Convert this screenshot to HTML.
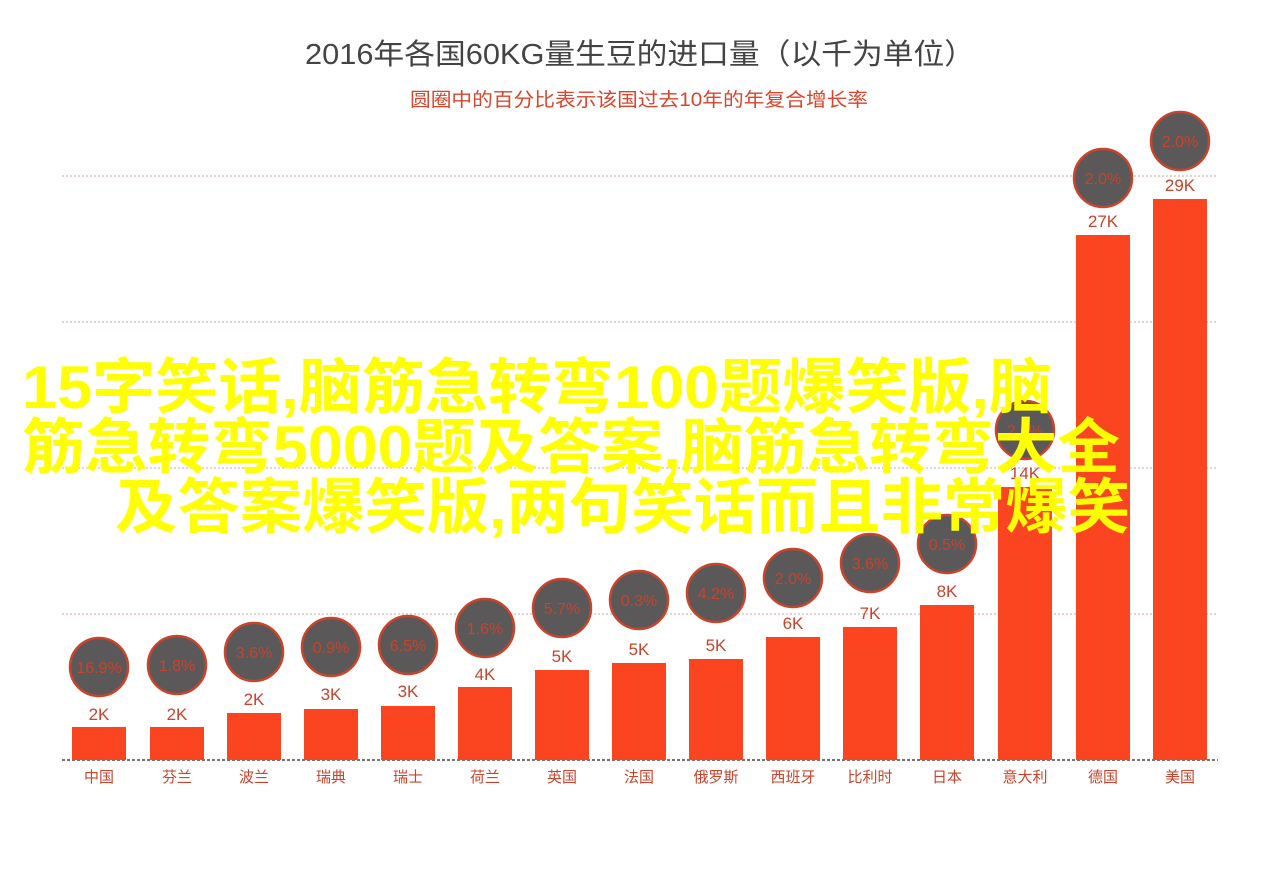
<!DOCTYPE html>
<html><head><meta charset="utf-8"><style>
body{margin:0;background:#fff;}
svg{display:block;font-family:"Liberation Sans","Noto Sans CJK SC",sans-serif;}
</style></head><body>
<svg width="1280" height="872" viewBox="0 0 1280 872">
<text x="305" y="64" font-size="29" fill="#444" textLength="670" lengthAdjust="spacingAndGlyphs">2016年各国60KG量生豆的进口量（以千为单位）</text>
<text x="410" y="106" font-size="19" fill="#d8452c" textLength="458" lengthAdjust="spacingAndGlyphs">圆圈中的百分比表示该国过去10年的年复合增长率</text>
<g stroke="#c9a9a0" stroke-dasharray="2,2" stroke-width="1">
<line x1="62" y1="176" x2="1218" y2="176"/>
<line x1="62" y1="322" x2="1218" y2="322"/>
<line x1="62" y1="468" x2="1218" y2="468"/>
<line x1="62" y1="614" x2="1218" y2="614"/>
</g>
<line x1="62" y1="760" x2="1218" y2="760" stroke="#222" stroke-dasharray="3,2" stroke-width="1.2"/>
<g fill="#fb4520">
<rect x="72" y="727" width="54" height="33"/>
<rect x="150" y="727" width="54" height="33"/>
<rect x="227" y="713" width="54" height="47"/>
<rect x="304" y="709" width="54" height="51"/>
<rect x="381" y="706" width="54" height="54"/>
<rect x="458" y="687" width="54" height="73"/>
<rect x="535" y="670" width="54" height="90"/>
<rect x="612" y="663" width="54" height="97"/>
<rect x="689" y="659" width="54" height="101"/>
<rect x="766" y="637" width="54" height="123"/>
<rect x="843" y="627" width="54" height="133"/>
<rect x="920" y="605" width="54" height="155"/>
<rect x="998" y="487" width="54" height="273"/>
<rect x="1076" y="235" width="54" height="525"/>
<rect x="1153" y="199" width="54" height="561"/>
</g>
<g fill="#5a5858" stroke="#c8442c" stroke-width="2.5">
<circle cx="99" cy="667" r="29"/>
<circle cx="177" cy="665" r="29"/>
<circle cx="254" cy="652" r="29"/>
<circle cx="331" cy="647" r="29"/>
<circle cx="408" cy="645" r="29"/>
<circle cx="485" cy="628" r="29"/>
<circle cx="562" cy="608" r="29"/>
<circle cx="639" cy="600" r="29"/>
<circle cx="716" cy="593" r="29"/>
<circle cx="793" cy="578" r="29"/>
<circle cx="870" cy="563" r="29"/>
<circle cx="947" cy="544" r="29"/>
<circle cx="1025" cy="430" r="29"/>
<circle cx="1103" cy="178" r="29"/>
<circle cx="1180" cy="141" r="29"/>
</g>
<g font-size="16" fill="#c8442c" text-anchor="middle">
<text x="99" y="673">16.9%</text>
<text x="177" y="671">1.8%</text>
<text x="254" y="658">3.6%</text>
<text x="331" y="653">0.9%</text>
<text x="408" y="651">6.5%</text>
<text x="485" y="634">1.6%</text>
<text x="562" y="614">5.7%</text>
<text x="639" y="606">0.3%</text>
<text x="716" y="599">4.2%</text>
<text x="793" y="584">2.0%</text>
<text x="870" y="569">3.6%</text>
<text x="947" y="550">0.5%</text>
<text x="1025" y="436">2.7%</text>
<text x="1103" y="184">2.0%</text>
<text x="1180" y="147">2.0%</text>
</g>
<g font-size="17" fill="#c8442c" text-anchor="middle">
<text x="99" y="720">2K</text>
<text x="177" y="720">2K</text>
<text x="254" y="705">2K</text>
<text x="331" y="700">3K</text>
<text x="408" y="697">3K</text>
<text x="485" y="680">4K</text>
<text x="562" y="662">5K</text>
<text x="639" y="655">5K</text>
<text x="716" y="651">5K</text>
<text x="793" y="629">6K</text>
<text x="870" y="619">7K</text>
<text x="947" y="597">8K</text>
<text x="1025" y="479">14K</text>
<text x="1103" y="227">27K</text>
<text x="1180" y="191">29K</text>
</g>
<g font-size="15" fill="#c8442c" text-anchor="middle">
<text x="99" y="782">中国</text>
<text x="177" y="782">芬兰</text>
<text x="254" y="782">波兰</text>
<text x="331" y="782">瑞典</text>
<text x="408" y="782">瑞士</text>
<text x="485" y="782">荷兰</text>
<text x="562" y="782">英国</text>
<text x="639" y="782">法国</text>
<text x="716" y="782">俄罗斯</text>
<text x="793" y="782">西班牙</text>
<text x="870" y="782">比利时</text>
<text x="947" y="782">日本</text>
<text x="1025" y="782">意大利</text>
<text x="1103" y="782">德国</text>
<text x="1180" y="782">美国</text>
</g>
<g font-size="60" font-weight="bold" fill="#ffff00">
<text x="22" y="408" textLength="1030" lengthAdjust="spacingAndGlyphs">15字笑话,脑筋急转弯100题爆笑版,脑</text>
<text x="22" y="468" textLength="1098" lengthAdjust="spacingAndGlyphs">筋急转弯5000题及答案,脑筋急转弯大全</text>
<text x="115" y="528" textLength="1015" lengthAdjust="spacingAndGlyphs">及答案爆笑版,两句笑话而且非常爆笑</text>
</g>
</svg>
</body></html>
